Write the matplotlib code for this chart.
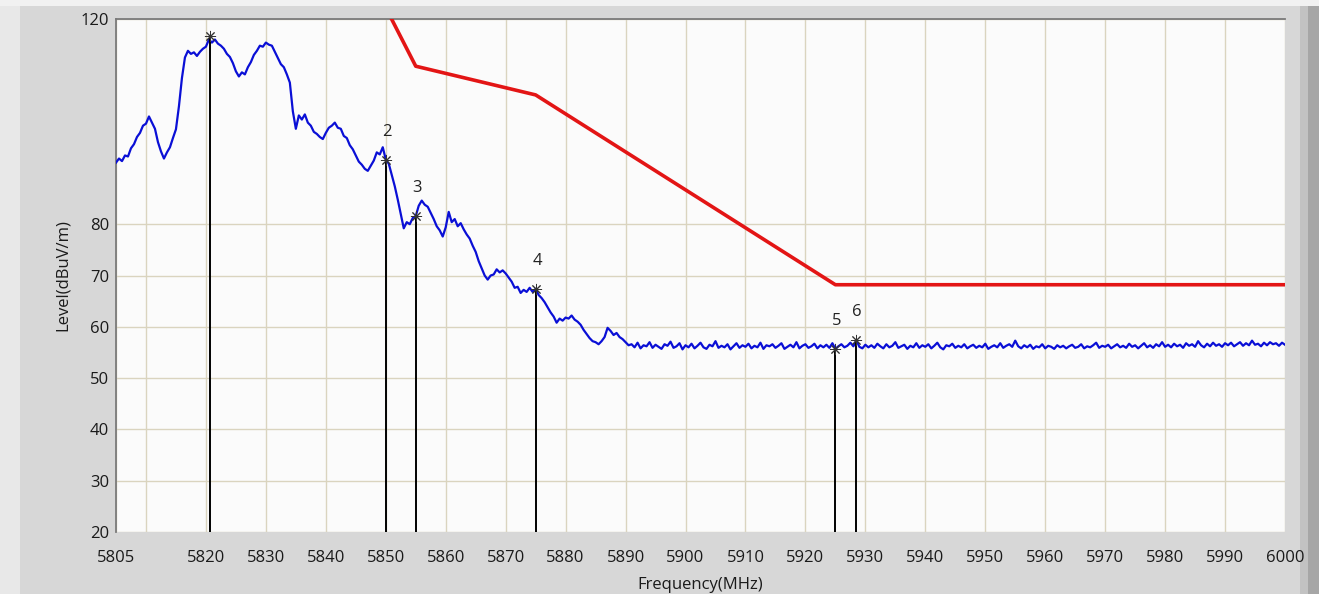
import numpy as np
import matplotlib
matplotlib.use("Agg")
import matplotlib.pyplot as plt
from matplotlib.patches import Rectangle

plt.rcParams["font.family"] = ["Open Sans", "DejaVu Sans"]

# ---------------- data ----------------
freq_start = 5805.0
freq_step = 0.5
level_trace = [
    92.0, 92.8, 92.3, 93.4, 93.2, 94.8, 95.6, 97.0, 97.8, 99.2,
    99.6, 101.0, 99.8, 98.6, 96.0, 94.2, 92.8, 94.0, 95.0, 96.8,
    98.5, 103.0, 108.5, 112.5, 113.8, 113.2, 113.5, 112.8, 113.6, 114.2,
    114.6, 116.0, 115.4, 116.0, 115.2, 114.8, 114.2, 113.2, 112.6, 111.4,
    109.8, 108.8, 109.6, 109.2, 110.6, 111.6, 113.0, 113.8, 114.8, 114.6,
    115.4, 115.0, 114.8, 113.6, 112.4, 111.2, 110.6, 109.2, 107.6, 102.0,
    98.6, 101.2, 100.4, 101.4, 99.8, 99.2, 98.0, 97.6, 97.0, 96.6,
    97.8, 98.8, 99.2, 99.8, 98.8, 98.6, 97.2, 96.8, 95.4, 94.6,
    93.4, 92.2, 91.6, 90.8, 90.4, 91.4, 92.4, 94.0, 93.6, 95.0,
    92.6, 91.8, 89.6, 87.4, 84.8, 82.0, 79.2, 80.4, 80.0, 81.2,
    81.6, 83.6, 84.6, 83.8, 83.4, 82.2, 81.0, 79.6, 78.8, 77.6,
    79.4, 82.4, 80.4, 81.0, 79.6, 80.2, 79.0, 78.0, 77.2, 75.8,
    74.6, 72.8, 71.4, 70.0, 69.2, 70.0, 70.2, 71.2, 70.6, 71.0,
    70.4, 69.6, 68.8, 67.6, 67.8, 66.6, 67.2, 66.8, 67.6, 66.8,
    67.4, 66.2, 65.6, 64.8, 63.8, 62.8, 62.0, 60.8, 61.6, 61.2,
    61.8, 61.6, 62.2, 61.4, 61.0, 60.4, 59.4, 58.6, 57.8, 57.2,
    57.0, 56.6, 57.2, 58.0, 59.8, 59.2, 58.4, 58.8, 58.0, 57.6,
    57.0, 56.4,
    56.6, 56.0, 56.9, 55.8, 56.4, 56.2, 57.0, 55.9, 56.5, 56.1,
    55.7, 56.6, 56.3, 57.1, 55.9, 56.2, 56.8, 55.6, 56.4, 56.0,
    56.7, 55.8, 56.3, 56.9, 56.0, 55.7, 56.5, 56.2, 57.2, 55.9,
    56.3, 56.0, 56.6, 55.6, 56.2, 56.8, 55.9, 56.4, 56.1, 56.7,
    55.8, 56.3, 56.0, 56.9, 55.7, 56.4, 56.2, 56.6, 55.9, 56.3,
    56.8, 55.7, 56.1, 56.5, 56.0, 57.0, 55.8, 56.3, 56.6, 55.9,
    56.2, 56.7, 55.8, 56.4, 56.0, 56.5, 55.9, 56.8, 55.7, 56.2,
    56.6, 56.0, 56.3, 56.9, 56.2, 57.4, 56.1, 55.8, 56.5, 56.0,
    56.4, 55.9, 56.7, 56.2, 55.8, 56.6, 56.0, 56.3, 57.0, 55.9,
    56.2, 56.5, 55.7, 56.3, 56.0, 56.8, 55.9, 56.4, 56.1, 56.6,
    55.8, 56.3, 56.9, 56.0, 55.6, 56.4, 56.2, 56.7, 55.9, 56.3,
    56.0, 56.6, 55.8, 56.2, 56.5, 55.9, 56.3, 56.0, 56.7, 55.7,
    56.1, 56.4, 56.0, 56.8, 55.9, 56.3, 56.6, 56.1, 57.3, 56.2,
    55.8, 56.4, 56.0, 56.5, 55.7, 56.2, 56.0, 56.6, 55.8, 56.3,
    56.1, 55.7, 56.4, 56.0, 56.3, 55.8, 56.2, 56.5, 55.9, 56.1,
    56.6, 55.8, 56.2, 56.0, 56.4, 56.9, 55.9, 56.3, 56.1, 56.5,
    55.8, 56.2, 56.6, 56.0, 56.3, 55.9, 56.7, 56.1, 56.4, 55.8,
    56.3, 56.8, 56.0, 56.4, 55.9, 56.6, 56.2, 57.0, 56.1, 56.5,
    56.0, 56.7, 56.2, 56.5, 55.9, 56.8, 56.3, 56.6, 56.1, 57.2,
    56.4, 56.0, 56.7, 56.2, 56.9, 56.3, 56.6, 56.1, 56.8, 56.4,
    56.9, 56.2, 56.6, 57.0, 56.3, 56.8, 56.4, 57.3, 56.5, 56.7,
    56.2, 56.9, 56.4, 57.0, 56.6, 56.8, 56.3, 56.9, 56.5,
]

limit_freq = [5850, 5855, 5875, 5925, 6000]
limit_level = [122.2, 110.8, 105.2, 68.2, 68.2]

marker_ids = ["1", "2", "3", "4", "5", "6"]
marker_freq = [5820.7, 5850.0, 5855.0, 5875.0, 5925.0, 5928.4]
marker_level = [116.7, 92.5, 81.6, 67.4, 55.7, 57.4]

xtick_vals = [5805, 5820, 5830, 5840, 5850, 5860, 5870, 5880, 5890, 5900,
              5910, 5920, 5930, 5940, 5950, 5960, 5970, 5980, 5990, 6000]
xgrid_extra = [5810]
ytick_vals = [20, 30, 40, 50, 60, 70, 80, 120]

x_label = "Frequency(MHz)"
y_label = "Level(dBuV/m)"

# ---------------- figure ----------------
W, H = 1319, 594
fig = plt.figure(figsize=(W / 100, H / 100), dpi=100)
fig.patch.set_facecolor("#d7d7d7")

# window decorations
fig.add_artist(Rectangle((0, 0), 20 / W, 1, transform=fig.transFigure,
                         facecolor="#e8e8e8", edgecolor="none", zorder=0))
fig.add_artist(Rectangle((0, 1 - 6 / H), 1, 6 / H, transform=fig.transFigure,
                         facecolor="#f1f1f1", edgecolor="none", zorder=0))
fig.add_artist(Rectangle((1300 / W, 0), 8 / W, 1 - 6 / H, transform=fig.transFigure,
                         facecolor="#c2c2c2", edgecolor="none", zorder=0))
fig.add_artist(Rectangle((1308 / W, 0), 11 / W, 1 - 6 / H, transform=fig.transFigure,
                         facecolor="#a6a6a6", edgecolor="none", zorder=0))

ax = fig.add_axes([116 / W, 62 / H, 1169 / W, 513 / H])
ax.set_facecolor("#fbfbfb")

freqs = freq_start + freq_step * np.arange(len(level_trace))

ax.plot(freqs, level_trace, color="#0a0fd6", lw=1.6, zorder=3)
ax.plot(limit_freq, limit_level, color="#e31515", lw=2.6, zorder=4)

ax.vlines(marker_freq, 20, marker_level, colors="black", lw=1.4, zorder=5)
ax.plot(marker_freq, marker_level, linestyle="none", marker=(8, 2, 0),
        markersize=8, markeredgewidth=0.7, color="#333333", zorder=6)

for mid, mf, ml in zip(marker_ids, marker_freq, marker_level):
    t = ax.annotate(mid, (mf, ml), xytext=(1, 20), textcoords="offset points",
                    ha="center", va="center", fontsize=12, color="#222222",
                    annotation_clip=False, zorder=7)
    t.set_clip_on(True)
    t.set_clip_box(ax.bbox)

ax.set_xlim(5805, 6000)
ax.set_ylim(20, 120)
ax.set_xticks(xtick_vals)
ax.set_xticks(xgrid_extra, minor=True)
ax.set_yticks(ytick_vals)
ax.tick_params(axis="both", which="both", length=0, labelsize=12, colors="#1a1a1a")
ax.tick_params(axis="x", pad=13)
ax.tick_params(axis="y", pad=5)
ax.grid(True, which="both", color="#dad4bf", lw=1.0, zorder=0)
ax.set_axisbelow(True)

for s in ("right", "bottom"):
    ax.spines[s].set_visible(False)
for s in ("top", "left"):
    ax.spines[s].set_color("#7a7a7a")
    ax.spines[s].set_linewidth(1.3)

xl = ax.set_xlabel(x_label, fontsize=12, color="#1a1a1a")
yl = ax.set_ylabel(y_label, fontsize=12, color="#1a1a1a")
xl.set_va("center")
yl.set_va("center")
ax.xaxis.set_label_coords(0.5, (532 - 585) / 513)
ax.yaxis.set_label_coords((63 - 116) / 1169, 0.5)

fig.savefig("out.png", dpi=100, facecolor=fig.get_facecolor())
